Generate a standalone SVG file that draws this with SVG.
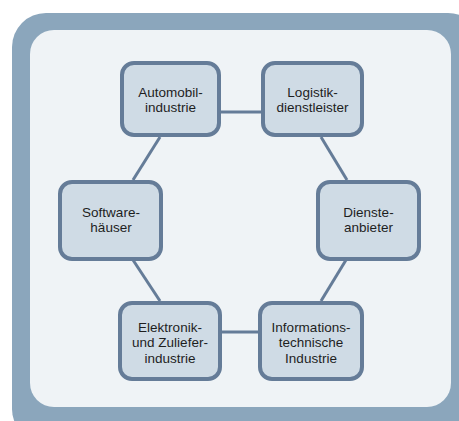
<svg xmlns="http://www.w3.org/2000/svg" width="459" height="421" viewBox="0 0 459 421">
  <style>
    .node rect { fill: #cfdbe5; stroke: #657c98; stroke-width: 4; }
    .node text { font-family: "Liberation Sans", Arial, sans-serif; font-size: 13.5px; fill: #1e1e1e; text-anchor: middle; }
    .links line { stroke: #657c98; stroke-width: 3; }
  </style>
  <!-- outer frame -->
  <rect x="12" y="13" width="470" height="430" rx="34" fill="#8ba6bc"/>
  <rect x="30" y="30" width="421" height="377" rx="24" fill="#eff3f6"/>

  <g class="links">
    <line x1="221" y1="112" x2="261" y2="112"/>
    <line x1="160" y1="137" x2="133" y2="180"/>
    <line x1="321" y1="137" x2="347" y2="180"/>
    <line x1="133" y1="260" x2="160" y2="301"/>
    <line x1="346" y1="260" x2="321" y2="301"/>
    <line x1="222" y1="332" x2="258" y2="332"/>
  </g>

  <g id="automobil" class="node">
    <rect x="122" y="63" width="97" height="72" rx="12"/>
    <text x="170.5" y="97">Automobil-</text>
    <text x="170.5" y="112">industrie</text>
  </g>
  <g id="logistik" class="node">
    <rect x="263" y="63" width="99" height="72" rx="12"/>
    <text x="312.5" y="97">Logistik-</text>
    <text x="312.5" y="112">dienstleister</text>
  </g>
  <g id="software" class="node">
    <rect x="60" y="182" width="101" height="77" rx="12"/>
    <text x="111" y="217">Software-</text>
    <text x="111" y="232">häuser</text>
  </g>
  <g id="dienste" class="node">
    <rect x="318" y="182" width="101" height="77" rx="12"/>
    <text x="368.5" y="217">Dienste-</text>
    <text x="368.5" y="232">anbieter</text>
  </g>
  <g id="elektronik" class="node">
    <rect x="120" y="303" width="100" height="76" rx="12"/>
    <text x="170" y="331.5">Elektronik-</text>
    <text x="170" y="347">und Zuliefer-</text>
    <text x="170" y="362.5">industrie</text>
  </g>
  <g id="informations" class="node">
    <rect x="260" y="303" width="102" height="76" rx="12"/>
    <text x="311" y="331.5">Informations-</text>
    <text x="311" y="347">technische</text>
    <text x="311" y="362.5">Industrie</text>
  </g>
</svg>
